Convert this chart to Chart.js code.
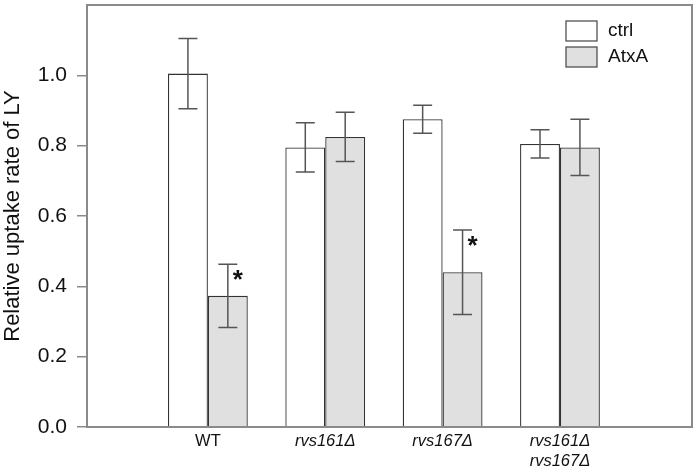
<!DOCTYPE html>
<html>
<head>
<meta charset="utf-8">
<script src="https://cdn.jsdelivr.net/npm/chart.js@4/dist/chart.umd.min.js"></script>
<style>
  html, body { margin: 0; padding: 0; background: #fff; }
  #wrap { width: 698px; height: 474px; }
</style>
</head>
<body>
<div id="wrap"><canvas id="chart" width="698" height="474"></canvas></div>
<script>
// Chart data
const categories = ['WT', 'rvs161\u0394', 'rvs167\u0394', ['rvs161\u0394', 'rvs167\u0394']];
const ctrlValues = [1.005, 0.795, 0.875, 0.805];
const ctrlErrors = [0.10, 0.07, 0.04, 0.04];
const atxaValues = [0.373, 0.825, 0.44, 0.795];
const atxaErrors = [0.09, 0.07, 0.12, 0.08];
const significant = [true, false, true, false];   // asterisk over AtxA bar
const yTicks = [0.0, 0.2, 0.4, 0.6, 0.8, 1.0];

const FONT = "'Liberation Sans', Arial, Helvetica, sans-serif";
const frameColor = '#8a8a8a';

function toPoints(values) {
  return values.map((v, i) => ({ x: i, y: v }));
}

// error bars, asterisks, frame and legend
const extrasPlugin = {
  id: 'extras',
  afterDatasetsDraw(chart) {
    const ctx = chart.ctx;
    const y = chart.scales.y;
    const errs = [ctrlErrors, atxaErrors];
    ctx.save();
    ctx.strokeStyle = '#555';
    ctx.lineWidth = 1.5;
    chart.data.datasets.forEach((ds, di) => {
      const meta = chart.getDatasetMeta(di);
      meta.data.forEach((bar, i) => {
        const v = ds.data[i].y;
        const e = errs[di][i];
        const yTop = y.getPixelForValue(v + e);
        const yBot = y.getPixelForValue(v - e);
        const cx = bar.x;
        ctx.beginPath();
        ctx.moveTo(cx, yTop); ctx.lineTo(cx, yBot);
        ctx.moveTo(cx - 9.5, yTop); ctx.lineTo(cx + 9.5, yTop);
        ctx.moveTo(cx - 9.5, yBot); ctx.lineTo(cx + 9.5, yBot);
        ctx.stroke();
        if (di === 1 && significant[i]) {
          ctx.fillStyle = '#111';
          ctx.font = 'bold 26px ' + FONT;
          ctx.textAlign = 'center';
          ctx.textBaseline = 'middle';
          ctx.fillText('*', cx + 10, yTop + 17);
        }
      });
    });

    // box frame around plot
    const a = chart.chartArea;
    ctx.strokeStyle = frameColor;
    ctx.lineWidth = 2;
    ctx.strokeRect(a.left, a.top, a.right - a.left, a.bottom - a.top);

    // legend in the upper right
    ctx.lineWidth = 1.2;
    ctx.font = '19px ' + FONT;
    ctx.textAlign = 'left';
    ctx.textBaseline = 'middle';
    chart.data.datasets.forEach((ds, di) => {
      const bx = 566, by = 21 + di * 26;
      ctx.fillStyle = ds.backgroundColor;
      ctx.fillRect(bx, by, 31, 20);
      ctx.strokeStyle = '#444';
      ctx.strokeRect(bx, by, 31, 20);
      ctx.fillStyle = '#111';
      ctx.fillText(ds.label, 608, by + 10);
    });
    ctx.restore();
  }
};

new Chart(document.getElementById('chart'), {
  type: 'bar',
  data: {
    datasets: [
      {
        label: 'ctrl',
        data: toPoints(ctrlValues),
        backgroundColor: '#ffffff',
        borderColor: '#333',
        borderWidth: 1.3,
        categoryPercentage: 0.68,
        barPercentage: 1.0
      },
      {
        label: 'AtxA',
        data: toPoints(atxaValues),
        backgroundColor: '#e0e0e0',
        borderColor: '#333',
        borderWidth: 1.3,
        categoryPercentage: 0.68,
        barPercentage: 1.0
      }
    ]
  },
  options: {
    responsive: false,
    animation: false,
    layout: { padding: { top: 5, right: 6, left: 0, bottom: 0 } },
    plugins: {
      legend: { display: false },
      tooltip: { enabled: false }
    },
    scales: {
      x: {
        type: 'linear',
        offset: false,
        min: -1.03,
        max: 4.125,
        afterBuildTicks(scale) {
          scale.ticks = categories.map((c, i) => ({ value: i }));
        },
        afterFit(scale) {
          scale.height = 47;
          scale.paddingLeft = 0;
          scale.paddingRight = 0;
        },
        grid: { display: false, drawTicks: false },
        border: { display: true, color: frameColor, width: 2 },
        ticks: {
          color: '#111',
          padding: 5,
          maxRotation: 0,
          autoSkip: false,
          callback: (v) => categories[v],
          font: (c) => ({
            family: FONT,
            size: 16.5,
            style: c.index === 0 ? 'normal' : 'italic'
          })
        }
      },
      y: {
        min: 0,
        max: 1.2,
        afterBuildTicks(scale) {
          scale.ticks = yTicks.map(v => ({ value: v }));
        },
        afterFit(scale) {
          scale.width = 87;
          scale.paddingTop = 0;
          scale.paddingBottom = 0;
        },
        grid: {
          drawOnChartArea: false,
          drawTicks: true,
          tickLength: 10,
          color: frameColor,
          lineWidth: 1.5
        },
        border: { display: true, color: frameColor, width: 2 },
        ticks: {
          color: '#111',
          padding: 10,
          font: { family: FONT, size: 21 },
          callback: (v) => Number(v).toFixed(1)
        },
        title: {
          display: true,
          text: 'Relative uptake rate of LY',
          color: '#111',
          padding: { top: 0, bottom: 2 },
          font: { family: FONT, size: 22 }
        }
      }
    }
  },
  plugins: [extrasPlugin]
});
</script>
</body>
</html>
